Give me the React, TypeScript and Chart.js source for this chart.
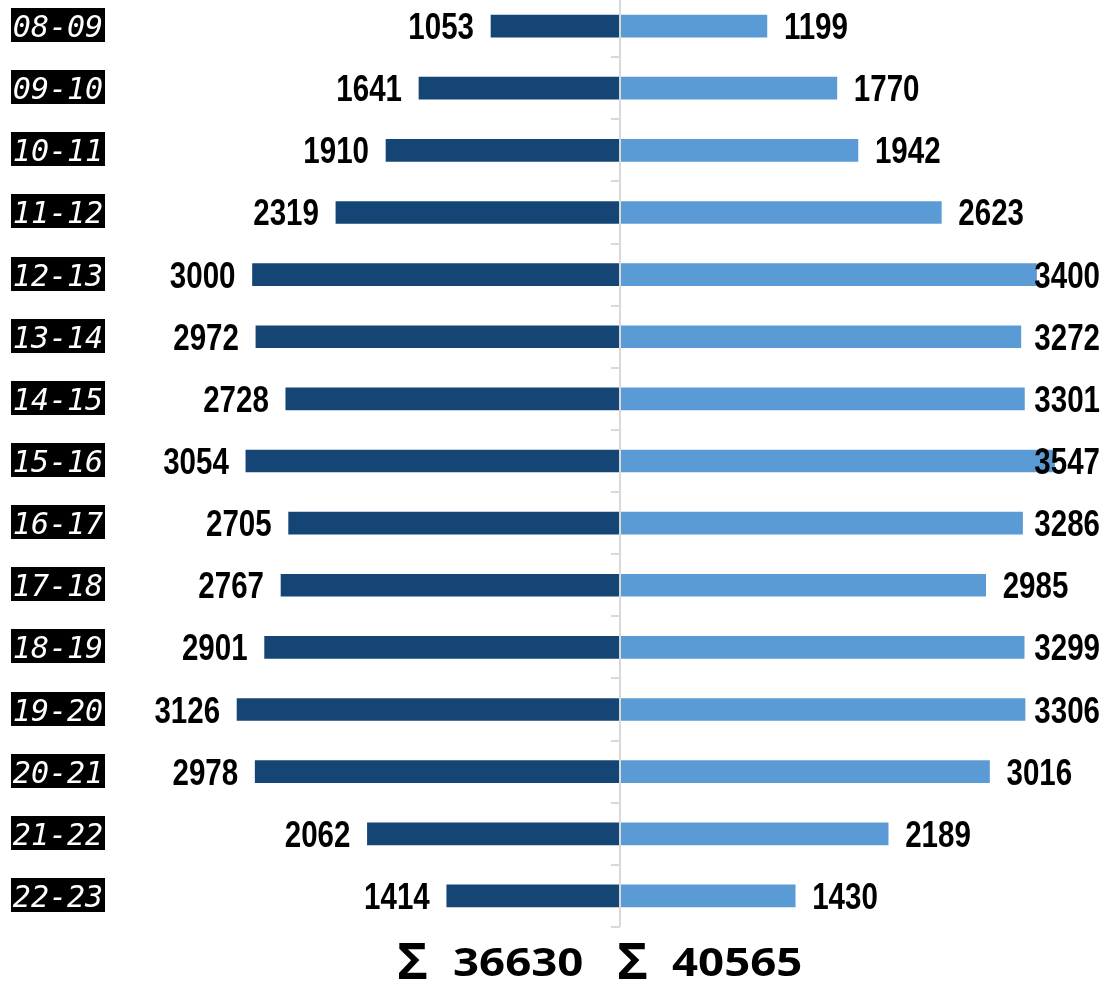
import React, { useEffect, useRef } from "react";
import { Chart, registerables } from "chart.js";

Chart.register(...registerables);

const categories = ["08-09", "09-10", "10-11", "11-12", "12-13", "13-14", "14-15", "15-16", "16-17", "17-18", "18-19", "19-20", "20-21", "21-22", "22-23"];
const leftValues = [1053, 1641, 1910, 2319, 3000, 2972, 2728, 3054, 2705, 2767, 2901, 3126, 2978, 2062, 1414];
const rightValues = [1199, 1770, 1942, 2623, 3400, 3272, 3301, 3547, 3286, 2985, 3299, 3306, 3016, 2189, 1430];

const DARK = "#154575";
const LIGHT = "#5B9BD5";
const AXIS = "#d9d9d9";

const W = 1106;
const H = 1005;
const NARROW = 0.82;

export default function App() {
  const ref = useRef<HTMLCanvasElement | null>(null);

  useEffect(() => {
    if (!ref.current) return;
    const sumL = leftValues.reduce((a, b) => a + b, 0);
    const sumR = rightValues.reduce((a, b) => a + b, 0);

    const drawScaled = (ctx: any, t: string, xPos: number, yBase: number, align: "left" | "right", sx: number) => {
      ctx.save();
      ctx.translate(xPos, yBase);
      ctx.scale(sx, 1);
      ctx.textAlign = align;
      ctx.fillText(t, 0, 0);
      ctx.restore();
    };

    const custom = {
      id: "custom",
      afterDatasetsDraw(chart: any) {
        const { ctx, chartArea, scales } = chart;
        const x = scales.x;
        const y = scales.y;
        const x0 = x.getPixelForValue(0);
        ctx.save();
        // center axis with ticks
        ctx.strokeStyle = AXIS;
        ctx.lineWidth = 2;
        ctx.beginPath();
        ctx.moveTo(x0, 0);
        ctx.lineTo(x0, chartArea.bottom);
        ctx.stroke();
        for (let i = 0; i <= categories.length; i++) {
          const yy = Math.round(y.getPixelForValue(i - 0.5));
          ctx.beginPath();
          ctx.moveTo(x0 - 9, yy);
          ctx.lineTo(x0, yy);
          ctx.stroke();
        }

        // data labels
        ctx.fillStyle = "#000";
        ctx.font = 'bold 36px "Liberation Sans", Arial, sans-serif';
        ctx.textBaseline = "alphabetic";
        const m0 = chart.getDatasetMeta(0);
        m0.data.forEach((bar: any, i: number) => {
          drawScaled(ctx, String(leftValues[i]), bar.x - 17, bar.y + 13, "right", NARROW);
        });
        const m1 = chart.getDatasetMeta(1);
        m1.data.forEach((bar: any, i: number) => {
          const t = String(rightValues[i]);
          const w = ctx.measureText(t).width * NARROW;
          const xx = Math.min(bar.x + 17, chartArea.right - 6 - w);
          drawScaled(ctx, t, xx, bar.y + 13, "left", NARROW);
        });

        // category labels (black boxes)
        categories.forEach((c, i) => {
          const yc = y.getPixelForValue(i);
          ctx.fillStyle = "#000";
          ctx.fillRect(11, Math.round(yc - 18), 94, 34);
          ctx.fillStyle = "#fff";
          ctx.font = 'italic 30px "DejaVu Sans Mono", monospace';
          ctx.textAlign = "center";
          ctx.fillText(c, 58, yc + 11);
        });

        // sums
        const base = chartArea.bottom + 49;
        ctx.fillStyle = "#000";
        ctx.font = 'bold 50px "Open Sans", "Noto Sans", sans-serif';
        drawScaled(ctx, "Σ", x0 - 223, base + 3, "left", 1.05);
        drawScaled(ctx, "Σ", x0 - 3, base + 3, "left", 1.05);
        ctx.font = 'bold 40px "Open Sans", "Noto Sans", sans-serif';
        drawScaled(ctx, String(sumL), x0 - 167, base, "left", 1.14);
        drawScaled(ctx, String(sumR), x0 + 52, base, "left", 1.14);

        ctx.restore();
      },
    };

    const chart = new Chart(ref.current, {
      type: "bar",
      data: {
        labels: categories,
        datasets: [
          {
            label: "left",
            data: leftValues.map((v) => -v),
            backgroundColor: DARK,
            barThickness: 22,
          },
          {
            label: "right",
            data: rightValues,
            backgroundColor: LIGHT,
            barThickness: 22,
          },
        ],
      },
      options: {
        indexAxis: "y",
        responsive: false,
        animation: false,
        devicePixelRatio: 1,
        layout: { padding: { top: 15, bottom: 58, left: 0, right: 0 } },
        plugins: {
          legend: { display: false },
          tooltip: { enabled: false },
          title: { display: false },
        },
        scales: {
          x: { type: "linear", min: -5061, max: 3967, stacked: true, display: false },
          y: { stacked: true, display: false },
        },
      },
      plugins: [custom],
    } as any);
    return () => chart.destroy();
  }, []);

  return (
    <div style={{ position: "fixed", left: 0, top: -20, width: W, height: H, background: "#fff" }}>
      <canvas ref={ref} width={W} height={H} style={{ width: W, height: H, display: "block" }} />
    </div>
  );
}
